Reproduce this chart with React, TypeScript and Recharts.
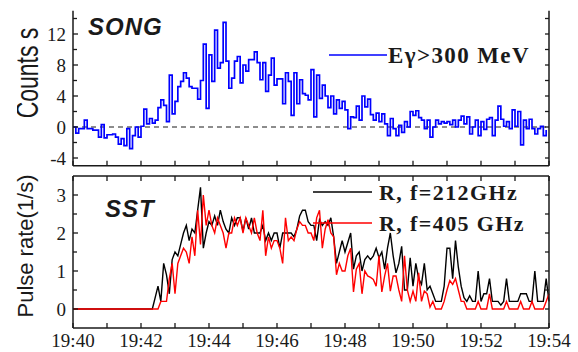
import { LineChart, Line, XAxis, YAxis, ReferenceLine, Legend } from 'recharts';

// time axis: minutes after 19:40, one bin / sample every 5 s
const BIN_SEC = 5;
const HOUR = '19';
const START_MINUTE = 40;

const minuteTicks = [0, 1, 2, 3, 4, 5, 6, 7, 8, 9, 10, 11, 12, 13, 14];
const countTicks = [-4, -2, 0, 2, 4, 6, 8, 10, 12, 14];
const rateTicks = [0, 0.5, 1, 1.5, 2, 2.5, 3];

// SONG, E_gamma > 300 MeV, counts per second (background subtracted)
const gammaCounts = [
  0, -0.8, -0.2, -0.2, 0.9, -0.2, -0.2, -0.4, -0.4, -1.3, 0.3, -1.4, -1.0, -1.0, -0.9, -1.3,
  -2.2, -1.5, -2.4, -0.2, -2.8, -1.1, 0, -1.3, 0.1, 2.3, 0.4, 1.1, 0.5, 0.9, 2.5, 3.5,
  2.8, 0.7, 6.7, 1.7, 3.3, 5.2, 5.9, 7.0, 6.3, 5.2,
  5.0, 5.0, 3.6, 6.0, 10.7, 2.4, 9.3, 5.9, 12.5, 7.6, 8.3, 13.5, 8.5, 5.0, 6.3, 8.5,
  9.1, 5.7, 8.0, 7.2, 8.7, 8.7, 9.7, 8.3, 6.1, 8.3, 4.6, 6.7, 8.9, 5.4, 6.2, 6.2,
  3.0, 7.0, 5.9, 1.5, 7.0, 3.0, 6.1, 4.3, 4.1, 3.5, 7.4,
  1.3, 6.7, 3.7, 5.4, 4.0, 2.5, 4.0, 1.7, 3.5, 2.4, 3.3, 2.2, -0.2, 1.3, 1.2, 2.7,
  0.9, 4.0, 2.6, 3.6, 1.6, 0.9, 1.8, 0.7, 1.7, 0.4, -1.1, 1.1, -0.2, -1.1, 0.2, -0.7,
  0.7, 0, 2.0, 1.5, 2.1, 1.2, 0.9, -0.2, 0.9, -1.3,
  0, 0.9, 0.4, 0.7, 0.5, 0.7, 0.3, 0.9, 0, 0.9, 1.4, 0.4, 1.3, -0.9, 0, 0.9,
  -1.1, 0.7, -0.3, 1.0, 1.2, -1.1, 0.9, 2.7, 1.0, 0.1, 0.7, -0.2, 2.2, 0.1, 2.0, -2.3,
  0.9, -0.2, 1.0, -0.2, -0.9, -0.2, 0.1, -1.1, -0.4,
];

// SST pulse rate (1/s)
const rate212 = [
  0, 0, 0, 0, 0, 0, 0, 0, 0, 0, 0, 0, 0, 0, 0, 0, 0, 0, 0, 0, 0, 0, 0, 0, 0, 0, 0, 0, 0,
  0.3, 0.6, 0.2, 1.2, 0.9, 0.4, 1.3, 1.5, 1.4, 1.7, 2.0, 2.2, 1.8, 2.1,
  2.0, 2.6, 3.2, 1.6, 2.0, 2.3, 2.2, 2.45, 2.2, 2.6, 2.3, 2.1, 2.0, 2.4, 2.2, 2.4,
  2.4, 2.05, 2.4, 2.1, 2.4, 2.0, 2.0, 2.0, 2.2, 1.8, 2.0, 1.8, 2.0, 2.0, 1.6, 2.0,
  2.0, 2.0, 2.0, 1.9, 2.1, 2.45, 2.6, 2.6, 2.3, 2.2,
  2.2, 1.8, 2.35, 2.2, 2.3, 2.2, 2.4, 1.9, 1.2, 1.5, 1.8, 1.5, 1.75, 2.0, 1.05, 1.4,
  1.5, 1.0, 1.3, 1.4, 1.3, 1.4, 1.6, 1.35, 1.5, 1.05, 1.6, 2.0, 1.4, 0.95, 1.2, 1.65,
  0.5, 0.5, 1.35, 0.6, 1.2, 0.8, 0.65, 1.2, 0.5, 0.6,
  0.4, 0.2, 0.2, 0.2, 0.6, 1.6, 1.6, 0.8, 1.8, 1.1, 0.6, 0.3, 0.2, 0.35, 0.2, 0.2,
  1.0, 0.2, 0.4, 0.4, 0.8, 0.2, 0.2, 0.2, 0.1, 0.2, 0.8, 0.2, 0.2, 0.2, 0.2, 0.4,
  0.4, 0.4, 0.2, 0.2, 1.0, 0.2, 0.2, 0.2, 0.8, 0.2,
];

const rate405 = [
  0, 0, 0, 0, 0, 0, 0, 0, 0, 0, 0, 0, 0, 0, 0, 0, 0, 0, 0, 0, 0, 0, 0, 0, 0, 0, 0, 0, 0, 0, 0,
  0.2, 0.2, 0.2, 0.8, 1.2, 0.4, 1.2, 1.4, 1.6, 1.5, 1.2, 1.9,
  1.4, 2.6, 1.7, 3.0, 2.2, 2.6, 2.2, 2.0, 2.4, 2.2, 2.0, 1.6, 2.0, 2.0, 2.4, 2.2,
  2.4, 2.0, 2.4, 2.2, 2.0, 2.4, 2.0, 1.8, 2.6, 1.4, 1.9, 1.6, 1.8, 1.8, 1.6, 1.2,
  2.4, 1.8, 1.9, 1.8, 2.1, 2.3, 2.2, 2.2, 2.0, 2.0,
  1.8, 2.4, 2.6, 1.6, 2.1, 2.35, 2.0, 1.9, 0.9, 1.2, 1.0, 1.0, 1.4, 1.6, 0.45, 1.05,
  1.2, 0.4, 1.0, 0.87, 0.83, 0.78, 0.6, 1.4, 0.45, 0.87, 1.2, 0.47, 0.87, 0.87, 0.5, 0.2,
  1.4, 0.5, 0.2, 0.47, 0.2, 0.95, 0.2, 0.47, 0.4, 0.05,
  0.2, 0, 0, 0, 0.2, 0.5, 0.75, 0.65, 0.8, 0.5, 0.2, 0.2, 0, 0, 0, 0,
  0.2, 0, 0, 0, 0.4, 0, 0, 0, 0, 0, 0.2, 0, 0, 0, 0, 0.2,
  0, 0, 0, 0.2, 0, 0, 0, 0, 0.2, 0.4,
];

const gammaData = gammaCounts.map((c, i) => ({ t: (i * BIN_SEC) / 60, c }));
const rateData = rate212.map((r, i) => ({ t: (i * BIN_SEC) / 60, r212: r, r405: rate405[i] }));

const INK = '#1a1a1a';
const SERIF = '"Liberation Serif", "Times New Roman", serif';
const SANS = '"Liberation Sans", Arial, sans-serif';

const isMultiple = (v: number, step: number) => Math.abs(v / step - Math.round(v / step)) < 1e-6;

// inward ticks; labels only on every `labelStep`
function makeYTick(side: 'left' | 'right', labelStep?: number) {
  return (props: any) => {
    const { x, y, payload } = props;
    const v = payload.value as number;
    const dir = side === 'left' ? 1 : -1;
    const labelled = labelStep !== undefined && isMultiple(v, labelStep);
    return (
      <g>
        <line x1={x} x2={x + dir * (labelled ? 5 : 4)} y1={y} y2={y} stroke={INK} strokeWidth={1.3} />
        {labelled && side === 'left' && (
          <text x={x - 7} y={y} dy="0.36em" textAnchor="end" fontFamily={SERIF} fontSize={19} fill={INK}>
            {v}
          </text>
        )}
      </g>
    );
  };
}

function makeXTick(dir: 1 | -1, withLabels: boolean) {
  return (props: any) => {
    const { x, y, payload } = props;
    const m = payload.value as number;
    return (
      <g>
        <line x1={x} x2={x} y1={y} y2={y + dir * 5} stroke={INK} strokeWidth={1.3} />
        {withLabels && m % 2 === 0 && (
          <text x={x} y={y + 19} textAnchor="middle" fontFamily={SERIF} fontSize={19} fill={INK}>
            {`${HOUR}:${START_MINUTE + m}`}
          </text>
        )}
      </g>
    );
  };
}

function makeLegend(lineLen: number, textX: number, gap: number, fontSize: number, boxW: number) {
  return ({ payload }: any) => (
    <svg width={boxW} height={gap * payload.length + 10} style={{ display: 'block', overflow: 'visible' }}>
      {payload.map((p: any, k: number) => {
        const ly = 8 + k * gap;
        return (
          <g key={k}>
            <line x1={0} x2={lineLen} y1={ly} y2={ly} stroke={p.color} strokeWidth={1.5} />
            <text x={textX} y={ly + 8} fontFamily={SERIF} fontWeight="bold" fontSize={fontSize} letterSpacing={1.4} fill={INK}>
              {p.value}
            </text>
          </g>
        );
      })}
    </svg>
  );
}

const axisLine = { stroke: INK, strokeWidth: 1.5 };

export default function App() {
  return (
    <div style={{ position: 'relative', width: 578, height: 352, background: '#fff' }}>
      <style>{'body{margin:0;background:#fff}'}</style>

      <div style={{ position: 'absolute', left: 0, top: 0 }}>
        <LineChart width={578} height={172} data={gammaData} margin={{ top: 10.75, right: 19, bottom: 0, left: 33 }}>
          <defs>
            <clipPath id="countsClip">
              <rect x={17} y={0} width={40} height={172} />
            </clipPath>
          </defs>
          <XAxis
            dataKey="t"
            type="number"
            domain={[0, 14]}
            ticks={minuteTicks}
            interval={0}
            height={6.25}
            tickSize={0}
            tickMargin={0}
            tickLine={false}
            axisLine={axisLine}
            tick={makeXTick(-1, false)}
          />
          <YAxis
            yAxisId="l"
            type="number"
            domain={[-5, 15]}
            ticks={countTicks}
            interval={0}
            width={40}
            tickSize={0}
            tickMargin={0}
            tickLine={false}
            axisLine={axisLine}
            tick={makeYTick('left', 4)}
            allowDataOverflow
          />
          <YAxis
            yAxisId="r"
            orientation="right"
            type="number"
            domain={[-5, 15]}
            ticks={countTicks}
            interval={0}
            width={10}
            tickSize={0}
            tickMargin={0}
            tickLine={false}
            axisLine={axisLine}
            tick={makeYTick('right')}
            allowDataOverflow
          />
          <ReferenceLine yAxisId="l" y={0} stroke={INK} strokeWidth={1} strokeDasharray="5 4" />
          <Line
            yAxisId="l"
            type="stepAfter"
            dataKey="c"
            name="Eγ>300 MeV"
            stroke="#0000ff"
            strokeWidth={1.7}
            dot={false}
            isAnimationActive={false}
          />
          <Legend
            layout="vertical"
            verticalAlign="middle"
            align="center"
            content={makeLegend(58, 59, 31, 23, 245)}
            wrapperStyle={{ left: 329, top: 47, width: 245 }}
          />
          <g clipPath="url(#countsClip)">
            <text
              transform="translate(38 73) rotate(-90) scale(1 1.4)"
              textAnchor="middle"
              fontFamily={SANS}
              fontSize={23}
              fill={INK}
            >
              Counts s
            </text>
          </g>
          <text x={88} y={35} fontFamily={SANS} fontWeight="bold" fontStyle="italic" fontSize={24} letterSpacing={1} fill={INK}>
            SONG
          </text>
        </LineChart>
      </div>

      <div style={{ position: 'absolute', left: 0, top: 172 }}>
        <LineChart width={578} height={180} data={rateData} margin={{ top: 2, right: 19, bottom: 0, left: 33 }}>
          <XAxis
            dataKey="t"
            type="number"
            domain={[0, 14]}
            ticks={minuteTicks}
            interval={0}
            height={24}
            tickSize={0}
            tickMargin={0}
            tickLine={false}
            axisLine={axisLine}
            tick={makeXTick(-1, true)}
          />
          <XAxis
            xAxisId="top"
            orientation="top"
            dataKey="t"
            type="number"
            domain={[0, 14]}
            ticks={minuteTicks}
            interval={0}
            height={2}
            tickSize={0}
            tickMargin={0}
            tickLine={false}
            axisLine={axisLine}
            tick={makeXTick(1, false)}
          />
          <YAxis
            yAxisId="l"
            type="number"
            domain={[-0.5, 3.5]}
            ticks={rateTicks}
            interval={0}
            width={40}
            tickSize={0}
            tickMargin={0}
            tickLine={false}
            axisLine={axisLine}
            tick={makeYTick('left', 1)}
            allowDataOverflow
          />
          <YAxis
            yAxisId="r"
            orientation="right"
            type="number"
            domain={[-0.5, 3.5]}
            ticks={rateTicks}
            interval={0}
            width={10}
            tickSize={0}
            tickMargin={0}
            tickLine={false}
            axisLine={axisLine}
            tick={makeYTick('right')}
            allowDataOverflow
          />
          <Line
            yAxisId="l"
            type="linear"
            dataKey="r212"
            name="R, f=212GHz"
            stroke="#000000"
            strokeWidth={1.4}
            dot={false}
            isAnimationActive={false}
          />
          <Line
            yAxisId="l"
            type="linear"
            dataKey="r405"
            name="R, f=405 GHz"
            stroke="#ff0000"
            strokeWidth={1.4}
            dot={false}
            isAnimationActive={false}
          />
          <Legend
            layout="vertical"
            verticalAlign="middle"
            align="center"
            content={makeLegend(59, 66, 31, 22, 255)}
            wrapperStyle={{ left: 313, top: 12, width: 255 }}
          />
          <text
            transform="translate(33 74) rotate(-90)"
            textAnchor="middle"
            fontFamily={SANS}
            fontSize={22}
            fill={INK}
          >
            Pulse rate(1/s)
          </text>
          <text x={105} y={45} fontFamily={SANS} fontWeight="bold" fontStyle="italic" fontSize={24} letterSpacing={1} fill={INK}>
            SST
          </text>
        </LineChart>
      </div>
    </div>
  );
}
